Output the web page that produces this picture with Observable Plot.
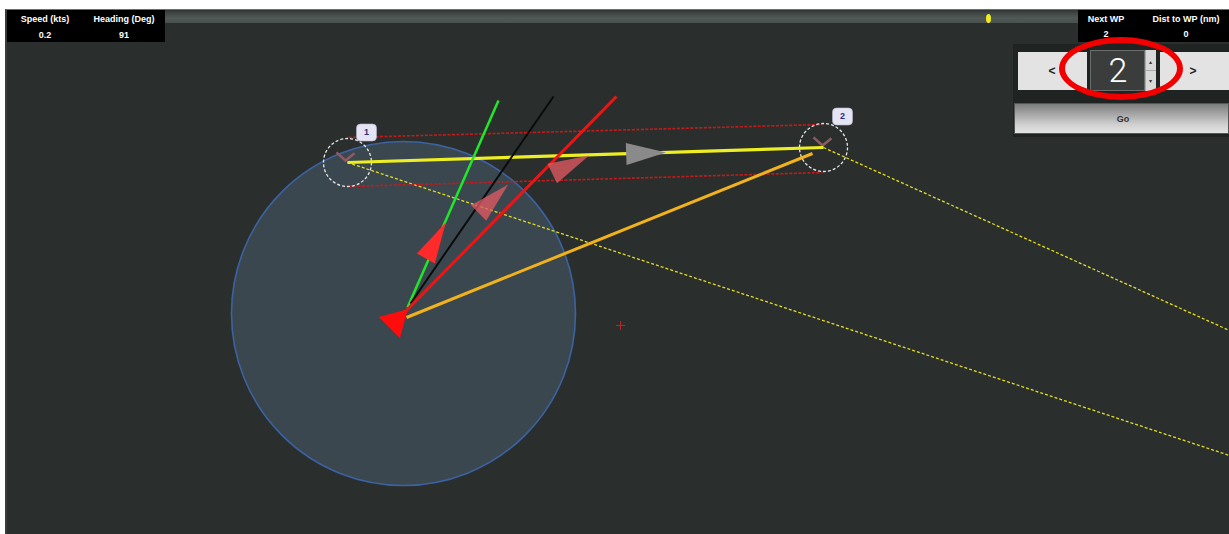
<!DOCTYPE html>
<html>
<head>
<meta charset="utf-8">
<script src="https://cdn.jsdelivr.net/npm/d3@7"></script>
<script src="https://cdn.jsdelivr.net/npm/@observablehq/plot@0.6"></script>
<style>
  html, body { margin: 0; padding: 0; background: #ffffff; }
  body { width: 1229px; height: 534px; overflow: hidden; position: relative;
         font-family: "Liberation Sans", Arial, sans-serif; }
  #wrap { position: absolute; left: 5px; top: 9px; width: 1224px; height: 525px;
          box-sizing: border-box; border-left: 2px solid #3a3a3a; border-top: 1px solid #6e6e6e;
          background: #2a2f2d; overflow: hidden; }
  #map { position: absolute; left: 0; top: 0; }
  .box { position: absolute; }
  .lbl { position: absolute; transform: translate(-50%, -50%); white-space: nowrap; }
  .hudtxt { color: #fff; font-weight: bold; font-size: 9px; }
</style>
</head>
<body>
<div id="wrap">
  <div id="map"></div>
</div>
<script>
// ---------------- data (map pixel coordinates of the plotter view) ----------------
// waypoints
const wpIds = ["1", "2"];
const wpX = [347, 823];
const wpY = [162, 147];
// waypoint number tags
const tagX = [366, 842];
const tagY = [132, 116];
// waypoint "V" marks
const vmarkX = [345, 822];
const vmarkY = [160, 145];
// cross-track corridor (red dashed)
const xtkX1 = [348, 348];
const xtkY1 = [137, 186];
const xtkX2 = [822, 822];
const xtkY2 = [124, 172];
// extension lines from waypoints (yellow dashed)
const extX1 = [347, 823];
const extY1 = [162, 147];
const extX2 = [1229, 1229];
const extY2 = [455, 330];
// vessel vectors: COG (green), heading (black), wind (red), to waypoint (orange)
const vecNames = ["cog", "heading", "wind", "towp"];
const vecX1 = [407, 410, 404, 406];
const vecY1 = [307, 303, 312, 317];
const vecX2 = [498, 553, 616, 812];
const vecY2 = [100, 96, 96, 153];
// range ring
const ringX = [403];
const ringY = [313];
// direction arrows
const arrowKind = ["cog", "wind", "wind", "leg"];
const arrowX = [432, 488, 564, 639];
const arrowY = [246, 203, 167, 153];
const arrowRot = [29, 46, 64, 88];
// vessel symbol
const boatX = [395];
const boatY = [321];
const boatRot = [165];
// cursor cross
const crossX = [620];
const crossY = [325];
// HUD values
const hudLeftLabels = ["Speed (kts)", "Heading (Deg)"];
const hudLeftValues = ["0.2", "91"];
const hudRightLabels = ["Next WP", "Dist to WP (nm)"];
const hudRightValues = ["2", "0"];
const selectedWp = "2";

// ---------------- tables built from the arrays ----------------
const wps = wpIds.map((id, i) => ({id, x: wpX[i], y: wpY[i], tx: tagX[i], ty: tagY[i], vx: vmarkX[i], vy: vmarkY[i]}));
const leg = [{x1: wpX[0], y1: wpY[0], x2: wpX[1], y2: wpY[1]}];
const xtk = xtkX1.map((_, i) => ({x1: xtkX1[i], y1: xtkY1[i], x2: xtkX2[i], y2: xtkY2[i]}));
const ext = extX1.map((_, i) => ({x1: extX1[i], y1: extY1[i], x2: extX2[i], y2: extY2[i]}));
const vecs = vecNames.map((n, i) => ({n, x1: vecX1[i], y1: vecY1[i], x2: vecX2[i], y2: vecY2[i]}));
const ring = ringX.map((x, i) => ({x, y: ringY[i]}));
const arrows = arrowKind.map((k, i) => ({k, x: arrowX[i], y: arrowY[i], rot: arrowRot[i]}));
const boat = boatX.map((x, i) => ({x, y: boatY[i], rot: boatRot[i]}));
const cross = crossX.map((x, i) => ({x, y: crossY[i]}));

// ---------------- custom symbols ----------------
function triSymbol(wr) {
  return {draw(ctx, size) {
    const r = Math.sqrt(size / Math.PI), w = r * wr;
    ctx.moveTo(0, -4 * r / 3); ctx.lineTo(w, 2 * r / 3); ctx.lineTo(-w, 2 * r / 3); ctx.closePath();
  }};
}
const vSymbol = {draw(ctx, size) {
  const r = Math.sqrt(size / Math.PI);
  ctx.moveTo(-r, -r * 0.9); ctx.lineTo(0, 0); ctx.lineTo(r, -r * 0.8);
}};
const tagSymbol = {draw(ctx, size) {
  const r = Math.sqrt(size / Math.PI);
  const hw = r, hh = r * 0.85, rr = r * 0.4;
  ctx.moveTo(-hw + rr, -hh);
  ctx.lineTo(hw - rr, -hh); ctx.arcTo(hw, -hh, hw, -hh + rr, rr);
  ctx.lineTo(hw, hh - rr); ctx.arcTo(hw, hh, hw - rr, hh, rr);
  ctx.lineTo(-hw + rr, hh); ctx.arcTo(-hw, hh, -hw, hh - rr, rr);
  ctx.lineTo(-hw, -hh + rr); ctx.arcTo(-hw, -hh, -hw + rr, -hh, rr);
  ctx.closePath();
}};

const vecColor = {cog: "#22e62a", heading: "#0b0b0b", wind: "#ee1414", towp: "#f2b21c"};
const vecWidth = {cog: 2.5, heading: 2, wind: 3, towp: 3};

const W = 1222, H = 524;
const plot = Plot.plot({
  width: W, height: H,
  marginTop: 0, marginRight: 0, marginBottom: 0, marginLeft: 0,
  x: {domain: [7, 1229], range: [0, W], axis: null},
  y: {domain: [10, 534], range: [0, H], axis: null},
  style: {background: "transparent", overflow: "visible"},
  marks: [
    // range ring
    Plot.dot(ring, {x: "x", y: "y", r: 172, fill: "#5d7592", fillOpacity: 0.34, stroke: "#3c62a2", strokeWidth: 1.6}),
    // extension lines
    Plot.link(ext, {x1: "x1", y1: "y1", x2: "x2", y2: "y2", stroke: "#e3dd22", strokeWidth: 1.3, strokeDasharray: "3,2"}),
    // cross-track corridor
    Plot.link(xtk, {x1: "x1", y1: "y1", x2: "x2", y2: "y2", stroke: "#c61a1a", strokeWidth: 1.6, strokeDasharray: "3,1.5"}),
    // waypoint circles
    Plot.dot(wps, {x: "x", y: "y", r: 24, fill: "none", stroke: "#e6e6e6", strokeWidth: 1.3, strokeDasharray: "3,2"}),
    // waypoint V marks
    Plot.dot(wps, {x: "vx", y: "vy", r: 9, symbol: vSymbol, fill: "none", stroke: "#8c5a62", strokeWidth: 2.6}),
    // active leg
    Plot.link(leg, {x1: "x1", y1: "y1", x2: "x2", y2: "y2", stroke: "#eeee24", strokeWidth: 3.2}),
    // vessel vectors
    ...vecNames.map(n => Plot.link(vecs.filter(d => d.n === n), {
      x1: "x1", y1: "y1", x2: "x2", y2: "y2", stroke: vecColor[n], strokeWidth: vecWidth[n]})),
    // arrows
    Plot.dot(arrows.filter(d => d.k === "leg"), {x: "x", y: "y", rotate: "rot", r: 20, symbol: triSymbol(0.55), fill: "#8a8a8a", stroke: "none"}),
    Plot.dot(arrows.filter(d => d.k === "wind"), {x: "x", y: "y", rotate: "rot", r: 20.5, symbol: triSymbol(0.53), fill: "#e45a62", fillOpacity: 0.76, stroke: "none"}),
    Plot.dot(arrows.filter(d => d.k === "cog"), {x: "x", y: "y", rotate: "rot", r: 20.5, symbol: triSymbol(0.5), fill: "#ff2a2a", stroke: "none"}),
    // vessel
    Plot.dot(boat, {x: "x", y: "y", rotate: "rot", r: 13, symbol: triSymbol(1.15), fill: "#ff0c0c", stroke: "none"}),
    // cursor
    Plot.dot(cross, {x: "x", y: "y", r: 3, symbol: "plus", stroke: "#c42222", strokeWidth: 1}),
    // waypoint tags
    Plot.dot(wps, {x: "tx", y: "ty", r: 10, symbol: tagSymbol, fill: "#e4e4f4", stroke: "#b8b8cc", strokeWidth: 0.6}),
    Plot.text(wps, {x: "tx", y: "ty", text: "id", fill: "#2b2d80", fontWeight: "bold", fontSize: 9,
                    fontFamily: "Liberation Sans, Arial, sans-serif"})
  ]
});
document.getElementById("map").appendChild(plot);

// ---------------- HUD overlay (positions in view pixels, origin at map corner) ----------------
const wrap = document.getElementById("wrap");
const OX = 7, OY = 10;
function box(x1, y1, x2, y2, style) {
  const d = document.createElement("div");
  d.className = "box";
  Object.assign(d.style, {left: (x1 - OX) + "px", top: (y1 - OY) + "px", width: (x2 - x1) + "px", height: (y2 - y1) + "px"}, style || {});
  wrap.appendChild(d);
  return d;
}
function label(text, cx, cy, cls, style) {
  const d = document.createElement("div");
  d.className = "lbl " + (cls || "");
  d.textContent = text;
  Object.assign(d.style, {left: (cx - OX) + "px", top: (cy - OY) + "px"}, style || {});
  wrap.appendChild(d);
  return d;
}
// top bars
box(7, 10, 165, 42, {background: "#000"});
box(165, 10, 1078, 23, {background: "linear-gradient(#2e3432 0%, #3f4745 25%, #4f5855 60%, #4a524f 100%)"});
box(985.5, 13.5, 990.5, 22.5, {background: "#f2ee1e", borderRadius: "50%"});
box(1078, 10, 1229, 42, {background: "#000"});
const leftCx = [45, 124], rightCx = [1106, 1186];
hudLeftLabels.forEach((t, i) => label(t, leftCx[i], 19, "hudtxt"));
hudLeftValues.forEach((t, i) => label(t, leftCx[i], 35, "hudtxt"));
hudRightLabels.forEach((t, i) => label(t, rightCx[i], 19, "hudtxt"));
hudRightValues.forEach((t, i) => label(t, rightCx[i], 34, "hudtxt"));
// waypoint selector panel
box(1013, 44, 1229, 137, {background: "#1f2423"});
box(1018, 52, 1087, 90, {background: "#e3e3e3"});
box(1160, 52, 1229, 90, {background: "#e3e3e3"});
box(1090, 50, 1145, 91, {background: "#3a3d3c", boxSizing: "border-box", border: "1px solid #6a6d6c"});
box(1145, 50, 1156, 91, {background: "#d9d9d9", boxSizing: "border-box", borderLeft: "1px solid #aaa"});
box(1145, 70, 1156, 71, {background: "#aaa"});
label("▴", 1150.5, 61, "", {fontSize: "6px", color: "#333"});
label("▾", 1150.5, 80, "", {fontSize: "6px", color: "#333"});
label("<", 1052, 71, "", {fontSize: "12px", fontWeight: "bold", color: "#222"});
label(">", 1193, 71, "", {fontSize: "12px", fontWeight: "bold", color: "#222"});
label(selectedWp, 1118, 70, "", {fontSize: "34px", fontFamily: "Roboto, sans-serif", fontWeight: "300", color: "#fff"});
box(1014, 103, 1229, 134, {background: "linear-gradient(#7c7c7c 0%, #a6a6a6 35%, #cfcfcf 70%, #e4e4e4 100%)",
     boxSizing: "border-box", border: "1px solid #555"});
label("Go", 1123, 118.5, "", {fontSize: "9px", fontWeight: "bold", color: "#333"});
// red highlight ellipse
box(1059, 37, 1183, 100, {boxSizing: "border-box", border: "6px solid #f20000", borderRadius: "50%"});
</script>
</body>
</html>
